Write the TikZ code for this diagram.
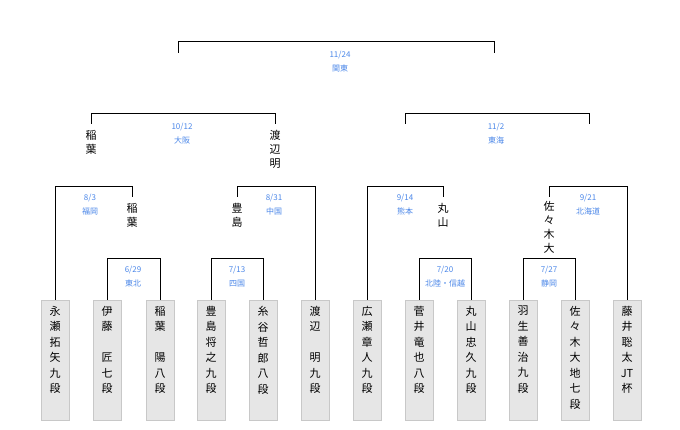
\documentclass[tikz,border=0pt]{standalone}
\usepackage{fontspec}
\setmainfont{Noto Sans CJK JP}
\usetikzlibrary{positioning}
\definecolor{venue}{HTML}{4A86E8}
\definecolor{boxfill}{HTML}{E6E6E6}
\definecolor{boxline}{HTML}{C8C8C8}
\tikzset{
  player/.style={draw=boxline,fill=boxfill,minimum width=28pt,minimum height=120pt,anchor=north,inner sep=0pt},
  plname/.style={anchor=north,align=center,inner sep=0pt,font=\fontsize{11}{15.5}\selectfont},
  winner/.style={anchor=north,align=center,inner sep=0pt,yshift=-6pt,font=\fontsize{11}{14}\selectfont},
  venuelbl/.style={align=center,text=venue,inner sep=0pt,font=\fontsize{8}{14}\selectfont},
  bracket/.style={thin,black}
}
\begin{document}
\begin{tikzpicture}[x=1pt,y=-1pt]
\useasboundingbox (0,0) rectangle (680,430);
%player boxes
\foreach \i/\x/\t in {1/55/永\\瀬\\拓\\矢\\九\\段, 2/107/伊\\藤\\　\\匠\\七\\段, 3/160/稲\\葉\\　\\陽\\八\\段,
  4/211/豊\\島\\将\\之\\九\\段, 5/263/糸\\谷\\哲\\郎\\八\\段, 6/315/渡\\辺\\　\\明\\九\\段,
  7/367/広\\瀬\\章\\人\\九\\段, 8/419/菅\\井\\竜\\也\\八\\段, 9/471/丸\\山\\忠\\久\\九\\段,
  10/523/羽\\生\\善\\治\\九\\段, 11/575/佐\\々\\木\\大\\地\\七\\段, 12/627/藤\\井\\聡\\太\\JT\\杯}{
  \node[player] (p\i) at (\x,300) {};
  \node[plname] at ([yshift=-6pt]p\i.north) {\t};
}
%first round
\draw[bracket] (p2.north) -- ++(0,-42) -| (p3.north);
\node[venuelbl] (v1) at (133,277) {6/29\\東北};
\draw[bracket] (p4.north) -- ++(0,-42) -| (p5.north);
\node[venuelbl] (v2) at (237,277) {7/13\\四国};
\draw[bracket] (p8.north) -- ++(0,-42) -| (p9.north);
\node[venuelbl] (v3) at (445,277) {7/20\\北陸・信越};
\draw[bracket] (p10.north) -- ++(0,-42) -| (p11.north);
\node[venuelbl] (v4) at (549,277) {7/27\\静岡};
%second round
\coordinate (c1) at (132,197);
\node[winner] (w1) at (c1) {稲\\葉};
\draw[bracket] (p1.north) |- ([yshift=11pt]c1) -- (c1);
\node[venuelbl] (v5) at (90,205) {8/3\\福岡};
\coordinate (c2) at (237,197);
\node[winner] (w2) at (c2) {豊\\島};
\draw[bracket] (c2) -- ([yshift=11pt]c2) -| (p6.north);
\node[venuelbl] (v6) at (274,205) {8/31\\中国};
\coordinate (c3) at (443,197);
\node[winner] (w3) at (c3) {丸\\山};
\draw[bracket] (p7.north) |- ([yshift=11pt]c3) -- (c3);
\node[venuelbl] (v7) at (405,205) {9/14\\熊本};
\coordinate (c4) at (549,197);
\node[winner,yshift=2pt] (w4) at (c4) {佐\\々\\木\\大};
\draw[bracket] (c4) -- ([yshift=11pt]c4) -| (p12.north);
\node[venuelbl] (v8) at (588,205) {9/21\\北海道};
%semifinals
\coordinate (s1) at (91,124);
\coordinate (s2) at (275,124);
\node[winner] (w5) at (s1) {稲\\葉};
\node[winner] (w6) at (s2) {渡\\辺\\明};
\draw[bracket] (s1) -- ([yshift=11pt]s1) -- ([yshift=11pt]s2) -- (s2);
\node[venuelbl] (v9) at (182,134) {10/12\\大阪};
\coordinate (s3) at (405,124);
\coordinate (s4) at (589,124);
\draw[bracket] (s3) -- ([yshift=11pt]s3) -- ([yshift=11pt]s4) -- (s4);
\node[venuelbl] (v10) at (496,134) {11/2\\東海};
%final
\coordinate (f1) at (178,53);
\coordinate (f2) at (494,53);
\draw[bracket] (f1) -- ([yshift=12pt]f1) -- ([yshift=12pt]f2) -- (f2);
\node[venuelbl] (v11) at (340,62) {11/24\\関東};
\end{tikzpicture}
\end{document}
